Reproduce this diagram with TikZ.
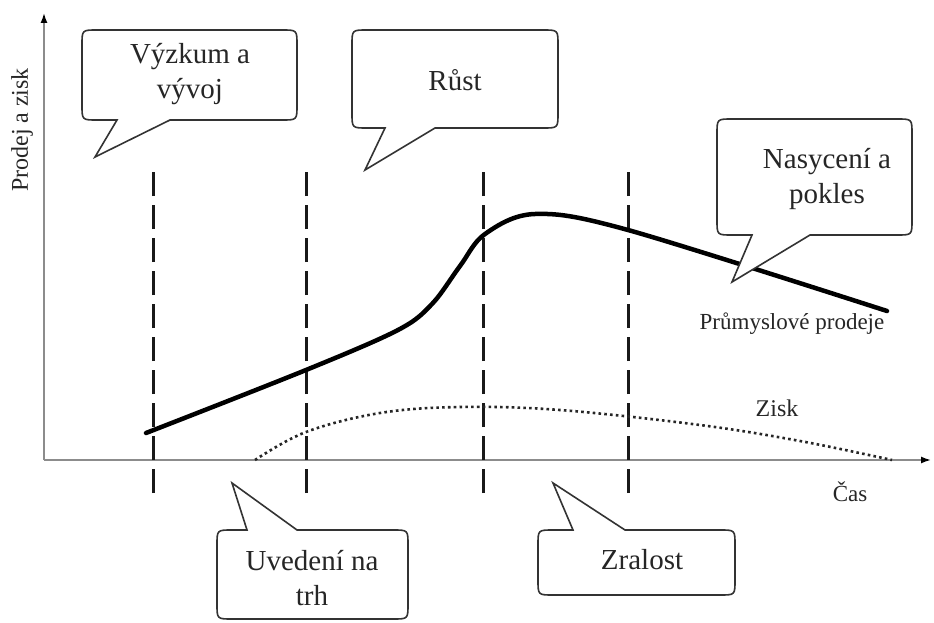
\documentclass[tikz,border=0pt]{standalone}
\usepackage{fontspec}
\setmainfont{Liberation Serif}
\usetikzlibrary{arrows.meta}

% speech bubble with the pointer leaving the bottom edge
% #1,#2 top-left  #3,#4 bottom-right  #5,#6 pointer base  #7,#8 tip
\newcommand\bubbledown[8]{%
  \draw[bubble] (#6,#4) -- ({#3-15},#4) .. controls (#3,#4) .. (#3,{#4-15})
    -- (#3,{#2+15}) .. controls (#3,#2) .. ({#3-15},#2)
    -- ({#1+15},#2) .. controls (#1,#2) .. (#1,{#2+15})
    -- (#1,{#4-15}) .. controls (#1,#4) .. ({#1+15},#4)
    -- (#5,#4) -- (#7,#8) -- cycle;}
% speech bubble with the pointer leaving the top edge
\newcommand\bubbleup[8]{%
  \draw[bubble] (#6,#2) -- ({#3-15},#2) .. controls (#3,#2) .. (#3,{#2+15})
    -- (#3,{#4-15}) .. controls (#3,#4) .. ({#3-15},#4)
    -- ({#1+15},#4) .. controls (#1,#4) .. (#1,{#4-15})
    -- (#1,{#2+15}) .. controls (#1,#2) .. ({#1+15},#2)
    -- (#5,#2) -- (#7,#8) -- cycle;}

\begin{document}
\begin{tikzpicture}[x=1pt,y=-1pt,
  bubble/.style={draw=black!80,line width=1.6pt,fill=white,line join=miter},
  bubbletext/.style={align=center,text=black!85,font=\fontsize{29}{35}\selectfont},
  smalltext/.style={text=black!85,font=\fontsize{23}{27}\selectfont},
  axis/.style={draw=black!45,line width=1.6pt},
  phase/.style={draw=black!90,line width=3pt,dash pattern=on 24pt off 9pt},
  sales/.style={draw=black,line width=4.5pt,line cap=round},
  profit/.style={draw=black!85,line width=2.6pt,dash pattern=on 2.6pt off 3.2pt}]

\useasboundingbox[fill=white] (0,0) rectangle (934,623);

% axes
\coordinate (origin) at (44,460);
\coordinate (ytop) at (44,13);
\coordinate (xend) at (931,460);
\draw[axis,-{Latex[black,length=10pt,width=7pt]}] (origin) -- (ytop);
\draw[axis,-{Latex[black,length=10pt,width=7pt]}] (origin) -- (xend);
\node[smalltext,rotate=90,font=\fontsize{24}{28}\selectfont] (ylab) at (22,130) {Prodej a zisk};
\node[smalltext] (xlab) at (850,492) {Čas};

% phase boundaries, dashed upwards from below the time axis
\foreach \px/\nm in {153/p1,306/p2,483/p3,628/p4}{
  \coordinate (\nm top) at (\px,171);
  \coordinate (\nm bot) at (\px,493);
  \draw[phase] (\nm bot) -- (\nm top);
}

% industry sales
\draw[sales] plot[smooth,tension=0.55] coordinates
  {(146,433) (306,370) (398,330) (432,304) (460,266) (485,234) (535,214) (628,230) (887,311)};
\node[smalltext] (saleslab) at (792,324) {Průmyslové prodeje};

% profit
\draw[profit] plot[smooth,tension=0.6] coordinates
  {(255,460) (306,432) (380,413) (460,407) (560,410) (700,425) (800,441) (892,460)};
\node[smalltext,font=\fontsize{24}{28}\selectfont] (profitlab) at (777,408) {Zisk};

% speech bubbles
\bubbledown{82}{30}{297}{120}{117}{170}{95}{157}
\node[bubbletext] (research) at (190,74) {Výzkum a\\vývoj};

\bubbledown{352}{30}{558}{128}{385}{435}{365}{170}
\node[bubbletext] (growth) at (455,80) {Růst};

\bubbledown{717}{119}{912}{235}{752}{810}{732}{282}
\node[bubbletext] (decline) at (827,179) {Nasycení a\\pokles};

\bubbleup{217}{530}{408}{619}{247}{297}{232}{483}
\node[bubbletext] (intro) at (312,578) {Uvedení na\\trh};

\bubbleup{538}{530}{735}{595}{573}{625}{553}{483}
\node[bubbletext] (maturity) at (642,560) {Zralost};

\end{tikzpicture}
\end{document}
